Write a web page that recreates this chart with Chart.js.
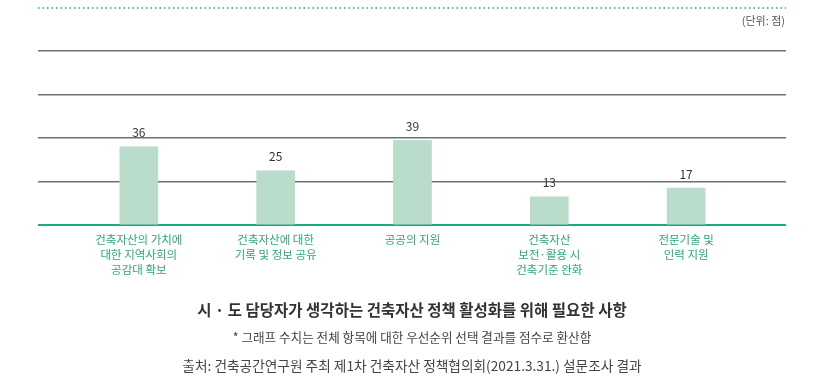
<!DOCTYPE html>
<html>
<head>
<meta charset="utf-8">
<script src="https://cdn.jsdelivr.net/npm/chart.js@4"></script>
<style>
  body { margin: 0; background: #fff; font-family: "Noto Sans CJK KR", sans-serif; }
  #wrap { position: relative; width: 828px; height: 385px; }
  .txt { position: absolute; white-space: nowrap; line-height: 1; }
  #unit { right: 43px; top: 15px; font-size: 11px; color: #555; }
  .cap { left: 0; width: 824px; text-align: center; }
  #title { top: 302px; font-size: 15.5px; font-weight: bold; color: #333; }
  #note { top: 331px; font-size: 12.6px; color: #444; }
  #src { top: 359px; font-size: 13.7px; color: #444; }
</style>
</head>
<body>
<div id="wrap">
  <canvas id="policyChart" width="828" height="385"></canvas>
  <div class="txt" id="unit">(단위: 점)</div>
  <div class="txt cap" id="title">시 · 도 담당자가 생각하는 건축자산 정책 활성화를 위해 필요한 사항</div>
  <div class="txt cap" id="note">* 그래프 수치는 전체 항목에 대한 우선순위 선택 결과를 점수로 환산함</div>
  <div class="txt cap" id="src">출처: 건축공간연구원 주최 제1차 건축자산 정책협의회(2021.3.31.) 설문조사 결과</div>
</div>
<script>
// --- data ---
const categories = [
    ['건축자산의 가치에', '대한 지역사회의', '공감대 확보'],
    ['건축자산에 대한', '기록 및 정보 공유'],
    ['공공의 지원'],
    ['건축자산', '보전·활용 시', '건축기준 완화'],
    ['전문기술 및', '인력 지원']
];
const scores = [36, 25, 39, 13, 17];
const yTicks = [0, 20, 40, 60, 80];

const GREEN = '#1aaa80';
const GRID = '#707070';

// top dotted rule + value labels on bars
const extras = {
    id: 'extras',
    beforeDraw(chart) {
        const { ctx, chartArea } = chart;
        ctx.save();
        ctx.strokeStyle = GREEN;
        ctx.lineWidth = 1.5;
        ctx.setLineDash([1.5, 3]);
        ctx.beginPath();
        ctx.moveTo(chartArea.left, 8);
        ctx.lineTo(chartArea.right, 8);
        ctx.stroke();
        ctx.restore();
    },
    afterDatasetsDraw(chart) {
        const { ctx } = chart;
        const meta = chart.getDatasetMeta(0);
        ctx.save();
        ctx.fillStyle = '#333';
        ctx.font = '12px "Noto Sans CJK KR"';
        ctx.textAlign = 'center';
        ctx.textBaseline = 'middle';
        meta.data.forEach((bar, i) => {
            ctx.fillText(String(scores[i]), bar.x, bar.y - 14);
        });
        ctx.restore();
    }
};

const ctx = document.getElementById('policyChart').getContext('2d');
const chart = new Chart(ctx, {
    type: 'bar',
    data: {
        datasets: [{
            data: scores.map((v, i) => ({ x: i, y: v })),
            backgroundColor: '#b9dccb',
            barThickness: 38
        }]
    },
    options: {
        responsive: false,
        animation: false,
        layout: { padding: { left: 38, right: 42, top: 51, bottom: 109 } },
        plugins: { legend: { display: false }, tooltip: { enabled: false } },
        scales: {
            x: {
                type: 'linear',
                offset: false,
                min: -0.737,
                max: 4.73,
                afterBuildTicks: axis => { axis.ticks = categories.map((c, i) => ({ value: i })); },
                grid: { display: false },
                border: { display: false },
                ticks: {
                    autoSkip: false,
                    maxRotation: 0,
                    padding: -1,
                    color: '#2ea57e',
                    font: { family: '"Noto Sans CJK KR"', size: 11.5, lineHeight: 1.3 },
                    callback: v => categories[v]
                }
            },
            y: {
                min: 0,
                max: 80,
                afterBuildTicks: axis => { axis.ticks = yTicks.map(v => ({ value: v })); },
                border: { display: false },
                grid: {
                    drawTicks: false,
                    color: c => c.tick && c.tick.value === 0 ? GREEN : GRID,
                    lineWidth: c => c.tick && c.tick.value === 0 ? 2 : 1.5
                },
                ticks: { display: false }
            }
        }
    },
    plugins: [extras]
});
</script>
</body>
</html>
